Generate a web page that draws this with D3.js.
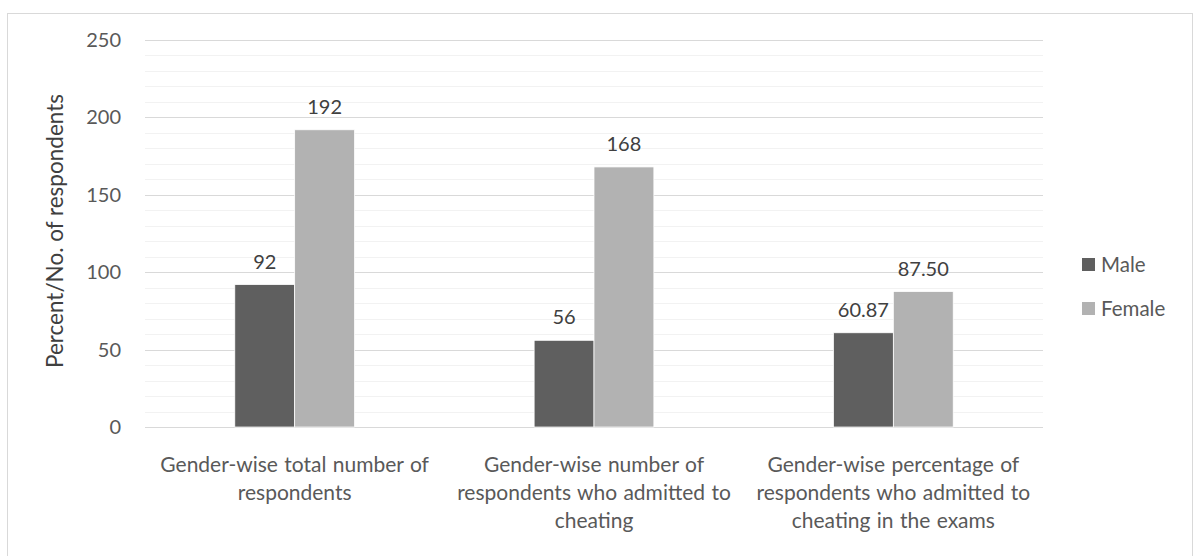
<!DOCTYPE html>
<html>
<head>
<meta charset="utf-8">
<script src="https://cdn.jsdelivr.net/npm/d3@7"></script>
<style>
  body { margin: 0; background: #fff; }
  text { font-family: Lato, "Open Sans", sans-serif; }
</style>
</head>
<body>
<div id="chart"></div>
<script>
// data
var categories = ["total", "admitted", "percent"];
var categoryLines = [
    ["Gender-wise total number of", "respondents"],
    ["Gender-wise number of", "respondents who admitted to", "cheating"],
    ["Gender-wise percentage of", "respondents who admitted to", "cheating in the exams"]
];
var seriesNames = ["Male", "Female"];
var maleValues = [92, 56, 60.87];
var femaleValues = [192, 168, 87.50];
var valueLabels = [["92", "56", "60.87"], ["192", "168", "87.50"]];
var yTicks = [0, 50, 100, 150, 200, 250];
var yTitle = "Percent/No. of respondents";

var width = 1194, height = 556;
var colors = ["#5f5f5f", "#b2b2b2"];
var textColor = "#595959";

var plot = { left: 145, right: 1043, top: 40, bottom: 427 };

var svg = d3.select("#chart").append("svg")
    .attr("width", width)
    .attr("height", height);

// chart frame
svg.append("rect")
    .attr("x", 7.5).attr("y", 13.5)
    .attr("width", 1185).attr("height", 560)
    .style("fill", "#fff")
    .style("stroke", "#d9d9d9");

var y = d3.scaleLinear().domain([0, 250]).range([plot.bottom, plot.top]);
var x0 = d3.scaleBand().domain(categories).range([plot.left, plot.right]).paddingInner(0).paddingOuter(0);
// gap width ~300% of a bar
var barW = x0.bandwidth() / 5;

// minor gridlines
var minor = d3.range(10, 251, 10).filter(function (v) { return v % 50 !== 0; });
svg.selectAll(".minor")
    .data(minor)
    .enter().append("line")
    .attr("class", "minor")
    .attr("x1", plot.left).attr("x2", plot.right)
    .attr("y1", function (d) { return Math.round(y(d)) + 0.5; })
    .attr("y2", function (d) { return Math.round(y(d)) + 0.5; })
    .style("stroke", "#f2f2f2");

// major gridlines
svg.selectAll(".major")
    .data(yTicks)
    .enter().append("line")
    .attr("class", "major")
    .attr("x1", plot.left).attr("x2", plot.right)
    .attr("y1", function (d) { return Math.round(y(d)) + 0.5; })
    .attr("y2", function (d) { return Math.round(y(d)) + 0.5; })
    .style("stroke", "#d9d9d9");

// y tick labels
svg.selectAll(".ytick")
    .data(yTicks)
    .enter().append("text")
    .attr("class", "ytick")
    .attr("x", 121)
    .attr("y", function (d) { return y(d); })
    .attr("dy", "0.35em")
    .attr("text-anchor", "end")
    .style("font-size", "20px")
    .style("fill", textColor)
    .text(function (d) { return d; });

// y title
svg.append("text")
    .attr("transform", "translate(63," + 231 + ") rotate(-90)")
    .attr("text-anchor", "middle")
    .style("font-size", "22.5px")
    .style("fill", "#404040")
    .text(yTitle);

var series = [maleValues, femaleValues];
series.forEach(function (vals, s) {
    var g = svg.append("g");
    g.selectAll("rect")
        .data(vals)
        .enter().append("rect")
        .attr("x", function (d, i) { return x0(categories[i]) + x0.bandwidth() / 2 - barW + s * barW; })
        .attr("y", function (d) { return y(d); })
        .attr("width", barW)
        .attr("height", function (d) { return y(0) - y(d); })
        .style("fill", colors[s])
        .style("stroke", "#fff")
        .style("stroke-width", 0.75);

    g.selectAll("text")
        .data(vals)
        .enter().append("text")
        .attr("x", function (d, i) { return x0(categories[i]) + x0.bandwidth() / 2 - barW / 2 + s * barW; })
        .attr("y", function (d) { return y(d) - 16; })
        .attr("text-anchor", "middle")
        .style("font-size", "20px")
        .style("fill", "#404040")
        .text(function (d, i) { return valueLabels[s][i]; });
});

// category labels
categories.forEach(function (c, i) {
    var t = svg.append("text")
        .attr("text-anchor", "middle")
        .style("font-size", "21px")
        .style("word-spacing", "1px")
        .style("fill", textColor);
    t.selectAll("tspan")
        .data(categoryLines[i])
        .enter().append("tspan")
        .attr("x", x0(c) + x0.bandwidth() / 2)
        .attr("y", function (d, j) { return 472 + j * 28; })
        .text(function (d) { return d; });
});

// legend
var legend = svg.selectAll(".legend")
    .data(seriesNames)
    .enter().append("g")
    .attr("class", "legend")
    .attr("transform", function (d, i) { return "translate(1082," + (258 + i * 44) + ")"; });

legend.append("rect")
    .attr("width", 13).attr("height", 13)
    .style("fill", function (d, i) { return colors[i]; });

legend.append("text")
    .attr("x", 19).attr("y", 7)
    .attr("dy", "0.35em")
    .style("font-size", "20.5px")
    .style("fill", textColor)
    .text(function (d) { return d; });
</script>
</body>
</html>
